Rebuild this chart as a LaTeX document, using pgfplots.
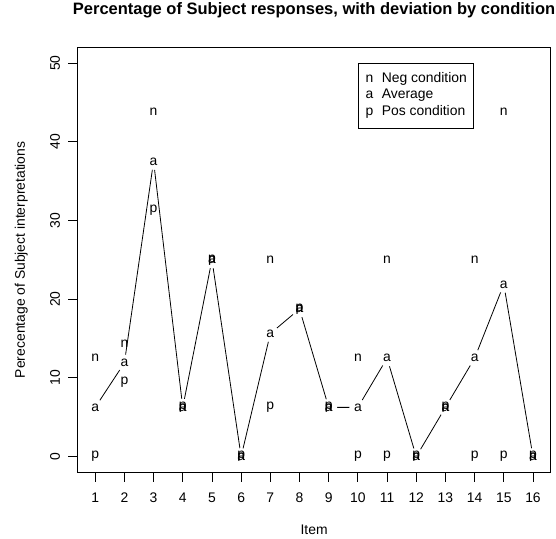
\documentclass[border=0pt]{standalone}
\usepackage{pgfplots}
\pgfplotsset{compat=1.18}
\usepackage{pgfplotstable}
\usepackage{fontspec}
\setmainfont{Liberation Sans}

% item, negative condition, average, positive condition (percent)
\pgfplotstableread{
item neg   avg    pos
1    12.5  6.25   0
2    14.3  11.9   9.5
3    43.75 37.5   31.25
4    6.25  6.25   6.25
5    25    25     25
6    0     0      0
7    25    15.625 6.25
8    18.75 18.75  18.75
9    6.25  6.25   6.25
10   12.5  6.25   0
11   25    12.5   0
12   0     0      0
13   6.25  6.25   6.25
14   25    12.5   0
15   43.75 21.875 0
16   0     0      0
}\resp

\newcommand{\lbl}{\fontsize{13.9bp}{16bp}\selectfont}

\begin{document}
\begin{tikzpicture}
  \begin{axis}[
      scale only axis,
      width=472.8bp, height=425bp,
      xmin=0.4, xmax=16.6, ymin=-2, ymax=52,
      xtick={1,...,16}, ytick={0,10,...,50},
      tick pos=left, tick align=outside,
      major tick length=9.5bp,
      every tick/.style={black, line width=0.8bp},
      axis line style={line width=0.8bp},
      tick label style={font=\lbl},
      /pgf/number format/assume math mode=true,
      xticklabel style={anchor=north, inner sep=0pt},
      yticklabel style={rotate=90, anchor=south, inner sep=0pt},
      xticklabel shift=10.6bp,
      yticklabel shift=8bp,
      title={Percentage of Subject responses, with deviation by condition},
      title style={at={(axis description cs:0.5,1)}, anchor=base, yshift=26.8bp,
        font=\bfseries\fontsize{16.5bp}{20bp}\selectfont},
      xlabel={Item},
      xlabel style={at={(axis description cs:0.5,0)}, anchor=base, yshift=-62.3bp, font=\lbl},
      ylabel={Perecentage of Subject interpretations},
      ylabel style={at={(axis description cs:-0.1115,0.5)}, anchor=base, font=\lbl},
      legend style={at={(axis description cs:0.5935,0.9624)}, anchor=north west,
        draw=black, line width=0.8bp, font=\lbl,
        inner xsep=7bp, inner ysep=8bp, row sep=0pt, column sep=8.4bp,
        nodes={inner xsep=0pt, inner ysep=0pt, text height=11bp, text depth=5.3bp}},
      legend cell align=left,
      legend image code/.code={\draw[#1] plot coordinates {(0bp,0bp)};},
      text mark as node=true,
    ]

    % average line, then letters on top
    \addplot[black, line width=0.8bp, forget plot] table[x=item, y=avg] {\resp};
    \addplot[only marks, black, mark=text, text mark={a}, forget plot,
      text mark style={font=\lbl, circle, fill=white, inner sep=2.2bp}]
      table[x=item, y=avg] {\resp};
    \addplot[only marks, black, mark=text, text mark={n}, forget plot,
      text mark style={font=\lbl, inner sep=0pt}]
      table[x=item, y=neg] {\resp};
    \addplot[only marks, black, mark=text, text mark={p}, forget plot,
      text mark style={font=\lbl, inner sep=0pt}]
      table[x=item, y=pos] {\resp};

    \addlegendimage{only marks, black, mark=text, text mark={n}, text mark style={font=\lbl, inner sep=0pt}}
    \addlegendentry{Neg condition}
    \addlegendimage{only marks, black, mark=text, text mark={a}, text mark style={font=\lbl, inner sep=0pt}}
    \addlegendentry{Average}
    \addlegendimage{only marks, black, mark=text, text mark={p}, text mark style={font=\lbl, inner sep=0pt}}
    \addlegendentry{Pos condition}
  \end{axis}
  \pgfresetboundingbox
  \path[use as bounding box] (-77.7bp,-66.7bp) rectangle (478.3bp,472.3bp);
\end{tikzpicture}
\end{document}
